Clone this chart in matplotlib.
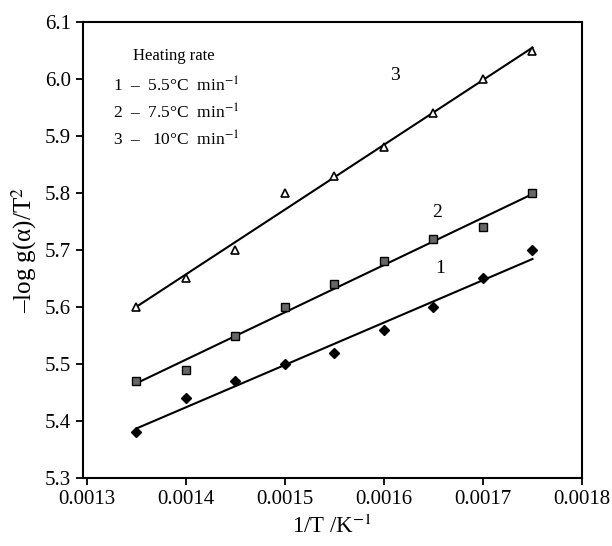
import numpy as np
import matplotlib
matplotlib.use("Agg")
import matplotlib.pyplot as plt

plt.rcParams['font.family'] = ['Liberation Serif', 'DejaVu Serif']
plt.rcParams['mathtext.fontset'] = 'stix'

x = [0.00135, 0.00140, 0.00145, 0.00150, 0.00155, 0.00160, 0.00165, 0.00170, 0.00175]
s1 = [5.38, 5.44, 5.47, 5.50, 5.52, 5.56, 5.60, 5.65, 5.70]
s2 = [5.47, 5.49, 5.55, 5.60, 5.64, 5.68, 5.72, 5.74, 5.80]
s3 = [5.60, 5.65, 5.70, 5.80, 5.83, 5.88, 5.94, 6.00, 6.05]
xticks = [0.0013, 0.0014, 0.0015, 0.0016, 0.0017, 0.0018]
yticks = [5.3, 5.4, 5.5, 5.6, 5.7, 5.8, 5.9, 6.0, 6.1]

fig = plt.figure(figsize=(6.12, 5.46), dpi=100)
ax = fig.add_axes([83/612, 1-478/546, 499/612, 456/546])

xa = np.array(x)
for ys, lab, lx, ly in [(s1, '1', 0.001657, 5.668), (s2, '2', 0.001654, 5.765), (s3, '3', 0.001611, 6.007)]:
    p = np.polyfit(xa, ys, 1)
    ax.plot(xa, np.polyval(p, xa), color='black', lw=1.5, zorder=2)
    ax.text(lx, ly, lab, fontsize=14, ha='center', va='center')

ax.plot(x, s3, linestyle='none', marker='^', ms=5.5, mfc='white', mec='black', mew=1.2, zorder=3)
ax.plot(x, s2, linestyle='none', marker='s', ms=6, mfc='#666666', mec='black', mew=1.0, zorder=3)
ax.plot(x, s1, linestyle='none', marker='D', ms=5, mfc='black', mec='black', zorder=3)

ax.set_xlim(0.001296, 0.0018)
ax.set_ylim(5.3, 6.1)
ax.set_xticks(xticks)
ax.set_xticklabels(['%.4f' % v for v in xticks])
ax.set_yticks(yticks)
ax.set_yticklabels(['%.1f' % v for v in yticks])
ax.tick_params(direction='out', length=5, width=1.3, labelsize=15)
for sp in ax.spines.values():
    sp.set_linewidth(1.5)

ax.set_xlabel(r'1/T /K$^{-1}$', fontsize=16.5, labelpad=4)
ax.set_ylabel('–log g(α)/T$^2$', fontsize=18, labelpad=4)

ax.text(0.10, 0.925, 'Heating rate', transform=ax.transAxes, fontsize=12, ha='left', va='center')
ax.text(0.06, 0.86, r'1  –  5.5°C  min$^{-1}$', transform=ax.transAxes, fontsize=12.5, ha='left', va='center')
ax.text(0.06, 0.80, r'2  –  7.5°C  min$^{-1}$', transform=ax.transAxes, fontsize=12.5, ha='left', va='center')
ax.text(0.06, 0.74, r'3  –   10°C  min$^{-1}$', transform=ax.transAxes, fontsize=12.5, ha='left', va='center')

fig.savefig('out.png', dpi=100)
